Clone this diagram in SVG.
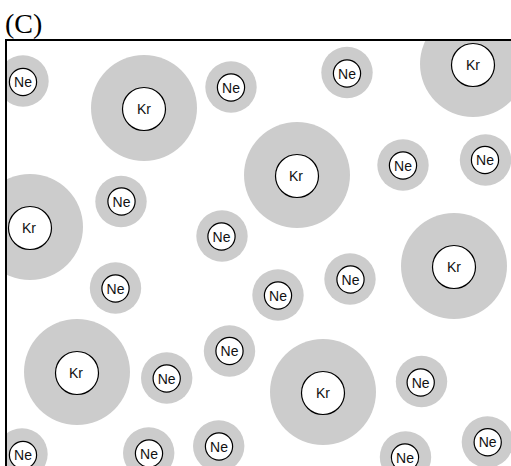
<svg xmlns="http://www.w3.org/2000/svg" width="511" height="466" viewBox="0 0 511 466">
<style>
.halo-ne{fill:#cccccc;}
.halo-kr{fill:#cccccc;}
.core-ne{fill:#ffffff;stroke:#000;stroke-width:1.2;}
.core-kr{fill:#ffffff;stroke:#000;stroke-width:1.2;}
.lbl{font-family:"Liberation Sans",Arial,sans-serif;font-size:14px;fill:#111;text-anchor:middle;}
.title{font-family:"Liberation Serif","Times New Roman",serif;font-size:28px;fill:#000;}
.frame{fill:none;stroke:#000;stroke-width:2;}
</style>
<defs>
<clipPath id="box"><rect x="6" y="40" width="505" height="426"/></clipPath>
</defs>
<rect width="511" height="466" fill="#fff"/>
<text class="title" x="5" y="33">(C)</text>
<g clip-path="url(#box)">
<g id="kr1"><circle class="halo-kr" cx="144" cy="108" r="53"/><circle class="core-kr" cx="144" cy="109" r="21.5"/><text class="lbl" x="144" y="114">Kr</text></g>
<g id="kr2"><circle class="halo-kr" cx="30" cy="227" r="53"/><circle class="core-kr" cx="30" cy="228" r="21.5"/><text class="lbl" x="29" y="233">Kr</text></g>
<g id="kr3"><circle class="halo-kr" cx="473" cy="64" r="53"/><circle class="core-kr" cx="473" cy="65" r="21.5"/><text class="lbl" x="473" y="70">Kr</text></g>
<g id="kr4"><circle class="halo-kr" cx="297" cy="175" r="53"/><circle class="core-kr" cx="297" cy="176" r="21.5"/><text class="lbl" x="296" y="181">Kr</text></g>
<g id="kr5"><circle class="halo-kr" cx="454" cy="266" r="53"/><circle class="core-kr" cx="454" cy="267" r="21.5"/><text class="lbl" x="454" y="272">Kr</text></g>
<g id="kr6"><circle class="halo-kr" cx="77" cy="372" r="53"/><circle class="core-kr" cx="77" cy="373" r="21.5"/><text class="lbl" x="76" y="378">Kr</text></g>
<g id="kr7"><circle class="halo-kr" cx="323" cy="392" r="53"/><circle class="core-kr" cx="323" cy="393" r="21.5"/><text class="lbl" x="323" y="398">Kr</text></g>
<g id="ne1"><circle class="halo-ne" cx="23" cy="81" r="25.7"/><circle class="core-ne" cx="23" cy="82" r="13.6"/><text class="lbl" x="23" y="87">Ne</text></g>
<g id="ne2"><circle class="halo-ne" cx="231" cy="87" r="25.7"/><circle class="core-ne" cx="231" cy="87.5" r="13.6"/><text class="lbl" x="231" y="92.5">Ne</text></g>
<g id="ne3"><circle class="halo-ne" cx="121" cy="201.5" r="25.7"/><circle class="core-ne" cx="121.5" cy="201.5" r="13.6"/><text class="lbl" x="121.5" y="206.5">Ne</text></g>
<g id="ne4"><circle class="halo-ne" cx="347" cy="72.5" r="25.7"/><circle class="core-ne" cx="347" cy="73.5" r="13.6"/><text class="lbl" x="347" y="78.5">Ne</text></g>
<g id="ne5"><circle class="halo-ne" cx="403" cy="165" r="25.7"/><circle class="core-ne" cx="403" cy="165.5" r="13.6"/><text class="lbl" x="403" y="170.5">Ne</text></g>
<g id="ne6"><circle class="halo-ne" cx="485.5" cy="160" r="25.7"/><circle class="core-ne" cx="485" cy="160" r="13.6"/><text class="lbl" x="485" y="165">Ne</text></g>
<g id="ne7"><circle class="halo-ne" cx="222" cy="236" r="25.7"/><circle class="core-ne" cx="221.5" cy="236.5" r="13.6"/><text class="lbl" x="221.5" y="241.5">Ne</text></g>
<g id="ne8"><circle class="halo-ne" cx="115.5" cy="288" r="25.7"/><circle class="core-ne" cx="115.5" cy="288.5" r="13.6"/><text class="lbl" x="115.5" y="293.5">Ne</text></g>
<g id="ne9"><circle class="halo-ne" cx="278" cy="295" r="25.7"/><circle class="core-ne" cx="278" cy="295.5" r="13.6"/><text class="lbl" x="278" y="300.5">Ne</text></g>
<g id="ne10"><circle class="halo-ne" cx="350" cy="279" r="25.7"/><circle class="core-ne" cx="350.5" cy="279.5" r="13.6"/><text class="lbl" x="350.5" y="284.5">Ne</text></g>
<g id="ne11"><circle class="halo-ne" cx="229.5" cy="351" r="25.7"/><circle class="core-ne" cx="229.5" cy="351" r="13.6"/><text class="lbl" x="229.5" y="356">Ne</text></g>
<g id="ne12"><circle class="halo-ne" cx="166.7" cy="378" r="25.7"/><circle class="core-ne" cx="166.7" cy="378.5" r="13.6"/><text class="lbl" x="166.7" y="383.5">Ne</text></g>
<g id="ne13"><circle class="halo-ne" cx="421.5" cy="381.5" r="25.7"/><circle class="core-ne" cx="420.7" cy="382.5" r="13.6"/><text class="lbl" x="420.7" y="387.5">Ne</text></g>
<g id="ne14"><circle class="halo-ne" cx="22" cy="454" r="25.7"/><circle class="core-ne" cx="23" cy="455" r="13.6"/><text class="lbl" x="23" y="460">Ne</text></g>
<g id="ne15"><circle class="halo-ne" cx="148.7" cy="453" r="25.7"/><circle class="core-ne" cx="149" cy="453.5" r="13.6"/><text class="lbl" x="149" y="458.5">Ne</text></g>
<g id="ne16"><circle class="halo-ne" cx="218.7" cy="446" r="25.7"/><circle class="core-ne" cx="219" cy="446.5" r="13.6"/><text class="lbl" x="219" y="451.5">Ne</text></g>
<g id="ne17"><circle class="halo-ne" cx="405.5" cy="457" r="25.7"/><circle class="core-ne" cx="405" cy="457.5" r="13.6"/><text class="lbl" x="405" y="462.5">Ne</text></g>
<g id="ne18"><circle class="halo-ne" cx="487.4" cy="442" r="25.7"/><circle class="core-ne" cx="487.7" cy="442.3" r="13.6"/><text class="lbl" x="487.7" y="447.3">Ne</text></g>
</g>
<path class="frame" d="M6,466 V40 H511"/>
</svg>
